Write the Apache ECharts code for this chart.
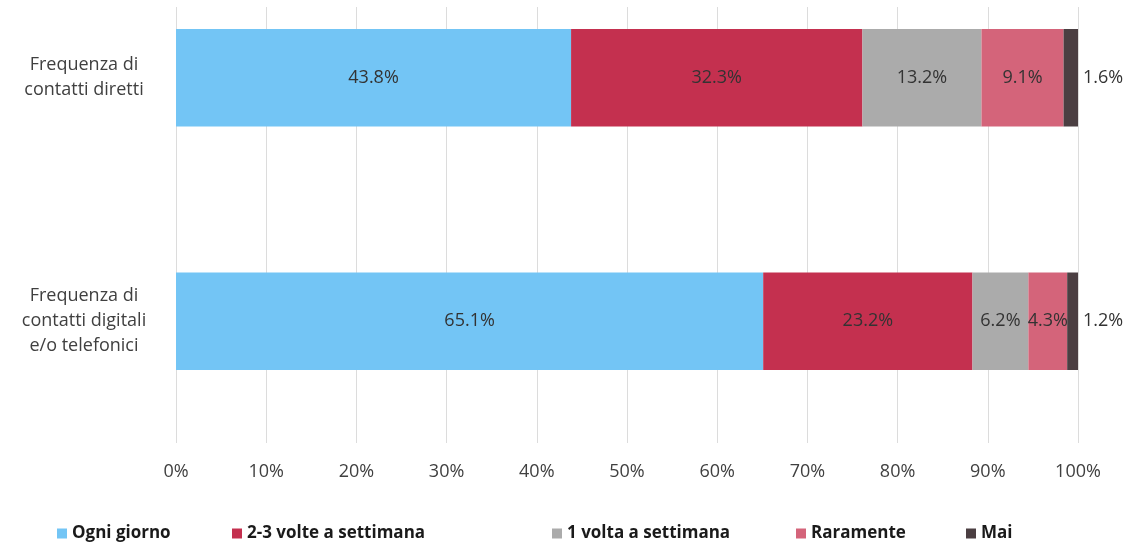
<!DOCTYPE html>
<html>
<head>
<meta charset="utf-8">
<script src="https://cdn.jsdelivr.net/npm/echarts@6/dist/echarts.min.js"></script>
<style>
  html, body { margin: 0; padding: 0; background: #fff; overflow: hidden; }
  /* il grafico originale e' ritagliato in alto: sposto il contenitore verso l'alto */
  #chart { width: 1135px; height: 588px; margin-top: -44px; }
</style>
</head>
<body>
<div id="chart"></div>
<script>
// categorie (dall'alto verso il basso)
var categorie = ['Frequenza di\ncontatti diretti', 'Frequenza di\ncontatti digitali\ne/o telefonici'];
var serieNomi = ['Ogni giorno', '2-3 volte a settimana', '1 volta a settimana', 'Raramente', 'Mai'];
var ogniGiorno = [43.8, 65.1];
var dueTreVolte = [32.3, 23.2];
var unaVolta = [13.2, 6.2];
var raramente = [9.1, 4.3];
var mai = [1.6, 1.2];
var colori = ['#73C5F5', '#C4304F', '#ABABAB', '#D4647A', '#4B3F42'];
var legendaX = [57, 232, 552, 796, 966];

var chart = echarts.init(document.getElementById('chart'));
var valori = [ogniGiorno, dueTreVolte, unaVolta, raramente, mai];
var serie = [];
var legende = [];
for (var i = 0; i < serieNomi.length; i++) {
  serie.push({
    name: serieNomi[i],
    type: 'bar',
    stack: 'totale',
    barCategoryGap: '60%',
    itemStyle: { color: colori[i] },
    label: {
      show: true,
      position: i === 4 ? 'right' : 'inside',
      distance: 5,
      formatter: '{c}%',
      color: '#333',
      fontFamily: 'Open Sans',
      fontSize: 18
    },
    data: valori[i]
  });
  // una legenda per voce, come nel grafico Excel
  legende.push({
    left: legendaX[i],
    top: 569,
    padding: 0,
    itemWidth: 10,
    itemHeight: 10,
    itemGap: 5,
    icon: 'rect',
    textStyle: { fontSize: 17, fontWeight: 'bold', color: '#1a1a1a', fontFamily: 'Open Sans' },
    data: [serieNomi[i]]
  });
}

chart.setOption({
  animation: false,
  textStyle: { fontFamily: 'Open Sans' },
  grid: { left: 176, right: 57, top: 0, bottom: 101 },
  legend: legende,
  xAxis: {
    type: 'value',
    min: 0,
    max: 100,
    interval: 10,
    axisLine: { show: false },
    axisTick: { show: false },
    axisLabel: { formatter: '{value}%', color: '#404040', fontSize: 18, margin: 20 },
    splitLine: { lineStyle: { color: '#dcdcdc' } }
  },
  yAxis: {
    type: 'category',
    inverse: true,
    data: categorie,
    axisLine: { show: false },
    axisTick: { show: false },
    axisLabel: { color: '#404040', fontSize: 18, lineHeight: 25, margin: 92, align: 'center' }
  },
  graphic: [{
    type: 'rect',
    shape: { x: 0, y: 44, width: 1135, height: 7 },
    style: { fill: '#fff' },
    z: 100
  }],
  series: serie
});
</script>
</body>
</html>
